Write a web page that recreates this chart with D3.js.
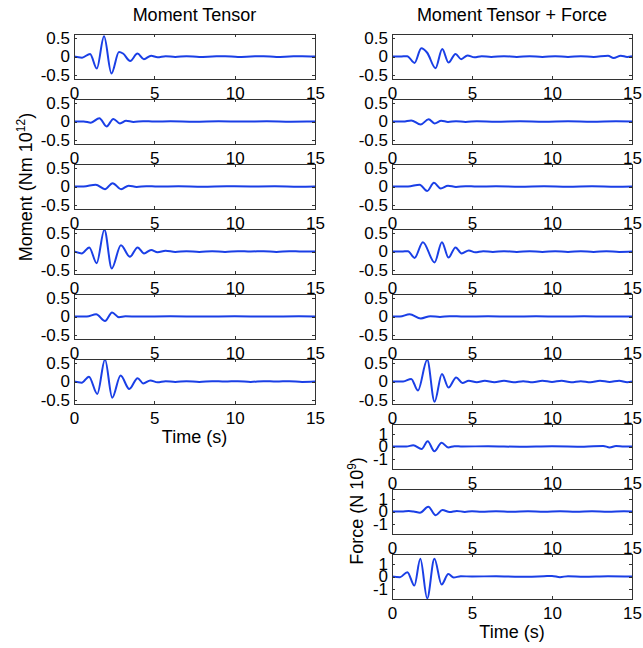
<!DOCTYPE html>
<html>
<head>
<meta charset="utf-8">
<script src="https://d3js.org/d3.v7.min.js"></script>
<style>
  body { margin: 0; background: #fff; }
  text { font-family: "Liberation Sans", Arial, sans-serif; fill: #000; }
</style>
</head>
<body>
<script>
// waveforms as [time (s), value]

// left column: moment tensor only (Nm 10^12)
var mtM1 = [[0,0],[0.5,-0.03],[1.0,0.07],[1.42,-0.32],[1.87,0.54],[2.33,-0.45],[2.8,0.12],[3.05,0.08],[3.5,-0.12],[3.95,0.08],[4.35,-0.07],[4.8,0.02],[5.2,-0.02],[5.7,0.01],[6.3,-0.01],[7.0,0.01],[7.8,-0.01],[8.6,0],[9.4,0.01],[10.2,-0.01],[11.0,0],[11.8,0.01],[12.6,-0.01],[13.4,0],[14.2,0.01],[15,0]];
var mtM2 = [[0,0],[0.6,0],[1.05,-0.03],[1.58,0.09],[2.03,-0.13],[2.45,0.07],[2.86,-0.05],[3.24,0.02],[3.7,-0.01],[4.3,0.01],[5.0,0],[6.0,0.005],[7.5,-0.005],[9.0,0.005],[10.5,0],[12.0,0.005],[13.5,-0.005],[15,0]];
var mtM3 = [[0,0],[0.6,0],[1.35,0.05],[1.93,-0.07],[2.4,0.09],[2.93,-0.07],[3.4,0.02],[3.9,-0.01],[4.5,0.01],[5.2,0],[6.5,0.005],[8.0,-0.005],[9.5,0.005],[11.0,0],[12.5,0.005],[14.0,-0.005],[15,0]];
var mtM4 = [[0,0],[0.48,-0.05],[0.95,0.11],[1.41,-0.31],[1.89,0.58],[2.35,-0.45],[2.92,0.17],[3.48,-0.14],[3.96,0.11],[4.36,-0.05],[4.8,0.04],[5.2,-0.02],[5.7,0.02],[6.3,-0.01],[7.0,0.01],[7.8,-0.01],[8.6,0.01],[9.4,-0.01],[10.2,0.01],[11.0,0],[11.8,0.01],[12.6,-0.01],[13.4,0.01],[14.2,0],[15,0]];
var mtM5 = [[0,0],[0.8,0],[1.38,0.06],[1.93,-0.12],[2.37,0.11],[2.8,-0.02],[3.2,0.005],[4.0,0],[6.0,0.005],[8.0,0],[10.0,0.005],[12.0,0],[14.0,0.005],[15,0]];
var mtM6 = [[0,0],[0.48,-0.03],[0.93,0.13],[1.45,-0.33],[1.93,0.59],[2.38,-0.43],[2.9,0.16],[3.44,-0.2],[3.96,0.09],[4.31,-0.05],[4.75,0.03],[5.2,-0.02],[5.7,0.01],[6.3,-0.01],[7.0,0.01],[7.8,-0.01],[8.6,0.01],[9.4,0],[10.2,0.01],[11.0,-0.01],[11.8,0.01],[12.6,0],[13.4,0.01],[14.2,-0.01],[15,0]];

// right column: moment tensor + force
var mfM1 = [[0,0],[0.5,0],[0.95,0.01],[1.41,-0.17],[1.83,0.22],[2.2,0.1],[2.72,-0.31],[3.14,0.2],[3.53,-0.16],[3.97,0.07],[4.32,-0.07],[4.72,0.03],[5.15,-0.02],[5.6,0.01],[6.2,-0.01],[7.0,0.01],[7.8,-0.01],[8.6,0.01],[9.4,-0.01],[10.2,0.01],[11.0,-0.01],[11.8,0.01],[12.6,-0.01],[13.5,0.02],[13.85,-0.04],[14.3,0.02],[14.7,-0.01],[15,0.01]];
var mfM2 = [[0,0],[0.7,0],[1.2,0.03],[1.79,-0.08],[2.29,0.06],[2.66,-0.05],[3.08,0.02],[3.5,-0.01],[4.0,0.01],[4.6,-0.01],[5.3,0.005],[6.5,-0.005],[8.0,0.005],[9.5,-0.005],[11.0,0.005],[12.5,-0.005],[14.0,0.005],[15,0]];
var mfM3 = [[0,0],[1.0,0],[1.73,0.05],[2.2,-0.12],[2.62,0.1],[3.04,-0.05],[3.5,0.02],[4.0,-0.01],[4.6,0.01],[5.3,0],[6.5,0.005],[8.0,-0.005],[9.5,0.005],[11.0,-0.005],[12.5,0.005],[14.0,-0.005],[15,0]];
var mfM4 = [[0,0],[0.6,0],[1.0,0.01],[1.41,-0.17],[1.93,0.25],[2.66,-0.29],[3.12,0.25],[3.53,-0.16],[3.97,0.11],[4.35,-0.05],[4.8,0.03],[5.2,-0.02],[5.7,0.01],[6.3,-0.01],[7.0,0.01],[7.8,-0.01],[8.6,0.01],[9.4,-0.01],[10.2,0.01],[11.0,-0.01],[11.8,0.01],[12.6,-0.01],[13.4,0.01],[14.2,-0.01],[15,0]];
var mfM5 = [[0,0],[0.5,0],[1.1,0.06],[1.8,-0.05],[2.4,0.01],[3.0,-0.01],[3.6,0.01],[4.5,0],[6.0,0.005],[7.5,0],[9.0,0.005],[10.5,0],[12.0,0.005],[13.5,0],[15,0]];
var mfM6 = [[0,0],[0.7,0],[1.2,0.07],[1.62,-0.24],[2.2,0.58],[2.66,-0.54],[3.12,0.2],[3.53,-0.16],[4.01,0.11],[4.4,-0.04],[4.8,0.02],[5.3,-0.02],[5.8,0.02],[6.4,-0.02],[7.0,0.02],[7.6,-0.02],[8.2,0.01],[8.8,-0.02],[9.4,0.02],[10.0,-0.01],[10.6,0.02],[11.2,-0.02],[11.8,0.01],[12.4,-0.02],[13.0,0.02],[13.6,-0.01],[14.2,0.02],[14.7,-0.02],[15,0]];

// force components (N 10^9)
var mfF1 = [[0,0],[0.9,0],[1.33,0.1],[1.85,-0.2],[2.23,0.42],[2.65,-0.38],[3.1,0.3],[3.52,-0.08],[3.9,0.03],[4.4,0],[6.0,0.02],[8.0,-0.02],[10.0,0.02],[12.0,-0.01],[13.2,0.05],[13.6,-0.08],[14.0,0.04],[14.5,0],[15,0]];
var mfF2 = [[0,0],[0.6,0],[1.05,0.04],[1.35,0],[1.75,-0.1],[2.27,0.38],[2.73,-0.3],[3.15,0.12],[3.6,-0.04],[4.05,0.05],[4.55,-0.03],[5.0,0.02],[5.6,-0.02],[6.5,0.02],[7.5,-0.02],[8.5,0.02],[9.5,-0.02],[10.5,0.02],[11.5,-0.02],[12.5,0.02],[13.5,-0.02],[14.5,0.02],[15,0]];
var mfF3 = [[0,0],[0.5,-0.05],[0.96,0.35],[1.4,-0.72],[1.77,1.42],[2.2,-1.75],[2.65,1.42],[3.1,-0.64],[3.52,0.2],[3.85,-0.08],[4.3,0.02],[5.0,0],[6.5,0.02],[8.0,-0.02],[9.5,0.02],[10.0,0.05],[10.5,-0.05],[11.0,0.03],[12.0,-0.02],[13.5,0.02],[15,0]];

var momentTicks = [-0.5, 0, 0.5];
var forceTicks = [-1, 0, 1];
var timeTicks = [0, 5, 10, 15];

var width = 643, height = 648;
var colX = [[74, 315], [392, 632]];
var panelTop = 34, panelH = 45, panelStep = 65;
var lineColor = "#1a3fe6";

var svg = d3.select("body").append("svg")
    .attr("width", width)
    .attr("height", height);

var panels = [
  {col: 0, row: 0, data: mtM1, kind: "m"},
  {col: 0, row: 1, data: mtM2, kind: "m"},
  {col: 0, row: 2, data: mtM3, kind: "m"},
  {col: 0, row: 3, data: mtM4, kind: "m"},
  {col: 0, row: 4, data: mtM5, kind: "m"},
  {col: 0, row: 5, data: mtM6, kind: "m"},
  {col: 1, row: 0, data: mfM1, kind: "m"},
  {col: 1, row: 1, data: mfM2, kind: "m"},
  {col: 1, row: 2, data: mfM3, kind: "m"},
  {col: 1, row: 3, data: mfM4, kind: "m"},
  {col: 1, row: 4, data: mfM5, kind: "m"},
  {col: 1, row: 5, data: mfM6, kind: "m"},
  {col: 1, row: 6, data: mfF1, kind: "f"},
  {col: 1, row: 7, data: mfF2, kind: "f"},
  {col: 1, row: 8, data: mfF3, kind: "f"}
];

panels.forEach(function(p, i) {
  var top = panelTop + panelStep * p.row,
      bottom = top + panelH,
      x0 = colX[p.col][0], x1 = colX[p.col][1];

  var x = d3.scaleLinear().domain([0, 15]).range([x0, x1]);
  var y = d3.scaleLinear()
      .domain(p.kind == "m" ? [-0.6, 0.6] : [-1.8, 1.8])
      .range([bottom, top]);
  var yTicks = p.kind == "m" ? momentTicks : forceTicks;

  var g = svg.append("g").attr("class", "panel");

  // white axes background hides the previous panel's tick labels, like matlab
  g.append("rect")
      .attr("x", x0).attr("y", top)
      .attr("width", x1 - x0).attr("height", panelH)
      .style("fill", "#fff");

  g.append("clipPath").attr("id", "clip" + i)
    .append("rect")
      .attr("x", x0).attr("y", top)
      .attr("width", x1 - x0).attr("height", panelH);

  var line = d3.line()
      .x(function(d) { return x(d[0]); })
      .y(function(d) { return y(d[1]); })
      .curve(d3.curveMonotoneX);

  g.append("path")
      .datum(p.data)
      .attr("clip-path", "url(#clip" + i + ")")
      .attr("d", line)
      .style("fill", "none")
      .style("stroke", lineColor)
      .style("stroke-width", 2)
      .style("stroke-linejoin", "round");

  var fmt = function(d) { return String(d); };

  var xb = g.append("g").attr("transform", "translate(0," + bottom + ")")
      .call(d3.axisBottom(x).tickValues(timeTicks).tickFormat(fmt)
            .tickSizeInner(-3).tickSizeOuter(0).tickPadding(8));
  var xt = g.append("g").attr("transform", "translate(0," + top + ")")
      .call(d3.axisTop(x).tickValues(timeTicks).tickFormat("")
            .tickSizeInner(-3).tickSizeOuter(0));
  var yl = g.append("g").attr("transform", "translate(" + x0 + ",0)")
      .call(d3.axisLeft(y).tickValues(yTicks).tickFormat(fmt)
            .tickSizeInner(-3).tickSizeOuter(0).tickPadding(4));
  var yr = g.append("g").attr("transform", "translate(" + x1 + ",0)")
      .call(d3.axisRight(y).tickValues(yTicks).tickFormat("")
            .tickSizeInner(-3).tickSizeOuter(0));

  [xb, xt, yl, yr].forEach(function(a) {
    a.select(".domain").remove();
    a.selectAll("line").style("stroke", "#333").attr("shape-rendering", "crispEdges");
    a.selectAll("text")
        .style("font-size", "17px")
        .style("font-family", "'Liberation Sans', Arial, sans-serif")
        .style("fill", "#000");
  });

  g.append("rect")
      .attr("x", x0).attr("y", top)
      .attr("width", x1 - x0).attr("height", panelH)
      .attr("shape-rendering", "crispEdges")
      .style("fill", "none")
      .style("stroke", "#333")
      .style("stroke-width", 1);
});

// titles
svg.append("text")
    .attr("x", 194.5).attr("y", 21)
    .style("text-anchor", "middle").style("font-size", "18px")
    .text("Moment Tensor");
svg.append("text")
    .attr("x", 512).attr("y", 21)
    .style("text-anchor", "middle").style("font-size", "18px")
    .text("Moment Tensor + Force");

// x labels
svg.append("text")
    .attr("x", 194.5).attr("y", 443)
    .style("text-anchor", "middle").style("font-size", "18px")
    .text("Time (s)");
svg.append("text")
    .attr("x", 512).attr("y", 638)
    .style("text-anchor", "middle").style("font-size", "18px")
    .text("Time (s)");

// y labels with superscripts
var ylab1 = svg.append("text")
    .attr("transform", "translate(32,187) rotate(-90)")
    .style("text-anchor", "middle").style("font-size", "18px");
ylab1.append("tspan").text("Moment (Nm 10");
ylab1.append("tspan").attr("dy", -7).style("font-size", "12px").text("12");
ylab1.append("tspan").attr("dy", 7).text(")");

var ylab2 = svg.append("text")
    .attr("transform", "translate(363,511) rotate(-90)")
    .style("text-anchor", "middle").style("font-size", "18px");
ylab2.append("tspan").text("Force (N 10");
ylab2.append("tspan").attr("dy", -7).style("font-size", "12px").text("9");
ylab2.append("tspan").attr("dy", 7).text(")");
</script>
</body>
</html>
